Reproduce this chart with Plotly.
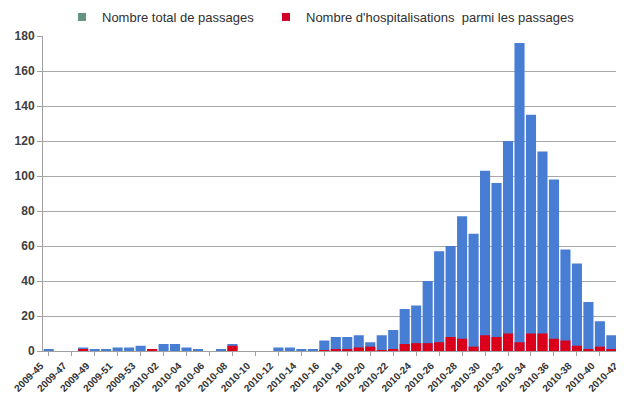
import plotly.graph_objects as go

weeks = (["2009-%02d" % w for w in range(45, 54)] +
         ["2010-%02d" % w for w in range(1, 43)])

total_passages = [1, 0, 0, 2, 1, 1, 2, 2, 3,
                  1, 4, 4, 2, 1, 0, 1, 4, 0, 0,
                  0, 2, 2, 1, 1, 6, 8, 8, 9, 5,
                  9, 12, 24, 26, 40, 57, 60, 77, 67, 103,
                  96, 120, 176, 135, 114, 98, 58, 50, 28, 17,
                  9, 8]

hospitalisations = [0, 0, 0, 1, 0, 0, 0, 0, 0,
                    1, 0, 0, 0, 0, 0, 0, 3, 0, 0,
                    0, 0, 0, 0, 0, 0.5, 1, 1, 2, 2.5,
                    0.5, 1, 4, 4.5, 4.5, 5, 8, 7, 2.5, 9,
                    8, 10, 5, 10, 10, 7, 6, 3, 1, 2.5,
                    1, 2.5]

tick_labels = weeks[::2]

series_names = ["Nombre total de passages",
                "Nombre d'hospitalisations  parmi les passages"]

blue = "rgb(72,125,212)"
red = "rgb(218,0,28)"
legend_colors = ["rgb(98,150,128)", "rgb(210,0,40)"]

# page body has an 8px default margin: figure is sized to fill the rest
W, H = 616, 393

fig = go.Figure()
fig.add_trace(go.Bar(x=weeks, y=total_passages, name=series_names[0],
                     marker=dict(color=blue, line=dict(width=0)),
                     showlegend=False))
fig.add_trace(go.Bar(x=weeks, y=hospitalisations, name=series_names[1],
                     marker=dict(color=red, line=dict(width=0)),
                     showlegend=False))
for nm, col, lg in zip(series_names, legend_colors, ["legend", "legend2"]):
    fig.add_trace(go.Scatter(x=[None], y=[None], mode="markers", name=nm,
                             marker=dict(symbol="square", size=8, color=col),
                             showlegend=True, hoverinfo="skip", legend=lg))

legend_common = dict(orientation="h", xref="container", yref="container",
                     y=1 - 9 / H, xanchor="left", yanchor="middle",
                     font=dict(size=13, color="#303030"),
                     itemwidth=30, bgcolor="rgba(0,0,0,0)")

fig.update_layout(
    width=W, height=H,
    margin=dict(l=35, r=0, t=28, b=50),
    barmode="overlay",
    bargap=0.12,
    plot_bgcolor="white",
    paper_bgcolor="white",
    font=dict(family="Liberation Sans, Arial, sans-serif", color="#404040"),
    showlegend=True,
    legend=dict(x=54 / W, **legend_common),
    legend2=dict(x=258 / W, **legend_common),
)

fig.update_xaxes(
    type="category",
    automargin=False,
    range=[-0.5, 50.1],
    tickmode="array", tickvals=tick_labels, ticktext=tick_labels,
    tickangle=-45,
    ticklabelshift=-8,
    tickfont=dict(size=10, color="#333333", family="Liberation Sans, Arial, sans-serif", weight="bold"),
    showgrid=False,
    showline=True, linecolor="#a0a0a0", linewidth=1,
    ticks="outside", ticklen=4, tickcolor="#a0a0a0",
)

fig.update_yaxes(
    automargin=False,
    range=[0, 180],
    tickmode="array", tickvals=list(range(0, 181, 20)),
    tickfont=dict(size=12, color="#404040", weight="bold"),
    showgrid=True, gridcolor="#a8a8a8", gridwidth=1,
    showline=True, linecolor="#a0a0a0", linewidth=1,
    ticks="outside", ticklen=5, tickcolor="#a0a0a0",
    zeroline=False,
)

fig.write_html("out.html")
